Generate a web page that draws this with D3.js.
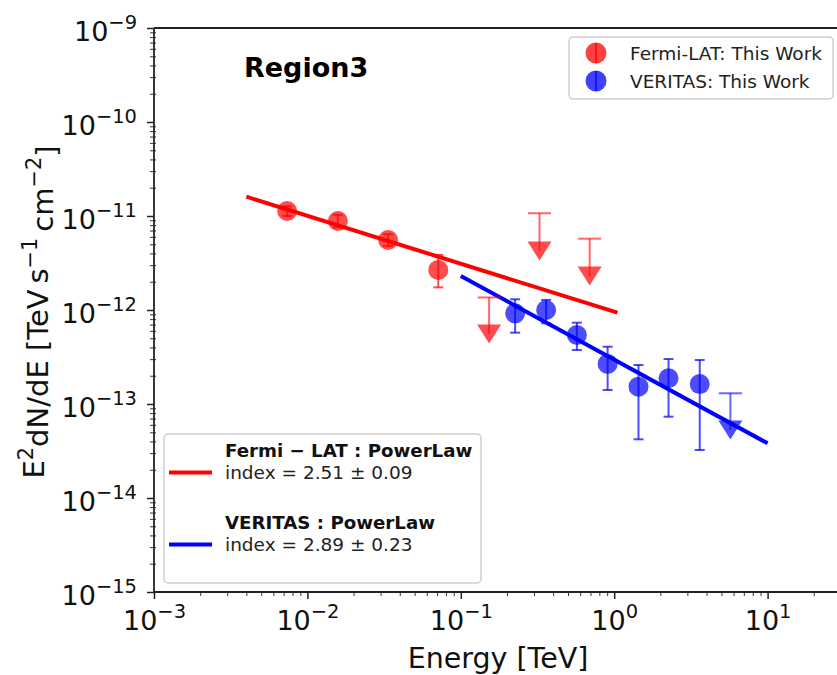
<!DOCTYPE html>
<html>
<head>
<meta charset="utf-8">
<script src="https://cdn.jsdelivr.net/npm/d3@7"></script>
<style>
  html, body { margin: 0; padding: 0; background: #fff; }
  svg { display: block; font-family: "DejaVu Sans", sans-serif; }
</style>
</head>
<body>
<svg id="chart" width="837" height="675"></svg>
<script>
// Fermi-LAT flux points (E in TeV, E^2 dN/dE in TeV s^-1 cm^-2)
const fermiEnergy = [0.00738, 0.0158, 0.0336, 0.0713];
const fermiFlux   = [1.13e-11, 8.85e-12, 5.56e-12, 2.67e-12];
const fermiFluxLo = [1.0e-11, 7.6e-12, 4.8e-12, 1.74e-12];
const fermiFluxHi = [1.27e-11, 1.03e-11, 6.4e-12, 3.85e-12];

// Fermi-LAT upper limits: limit value and arrow-head position
const fermiUlEnergy = [0.153, 0.326, 0.692];
const fermiUlValue  = [1.36e-12, 1.07e-11, 5.74e-12];
const fermiUlArrow  = [5.55e-13, 4.24e-12, 2.30e-12];

// VERITAS flux points
const veritasEnergy = [0.226, 0.360, 0.571, 0.906, 1.44, 2.26, 3.61];
const veritasFlux   = [9.22e-13, 1.0e-12, 5.42e-13, 2.67e-13, 1.53e-13, 1.88e-13, 1.63e-13];
const veritasFluxLo = [5.74e-13, 7.22e-13, 3.75e-13, 1.41e-13, 4.21e-14, 7.33e-14, 3.24e-14];
const veritasFluxHi = [1.30e-12, 1.28e-12, 7.33e-13, 4.07e-13, 2.60e-13, 3.01e-13, 2.94e-13];

// VERITAS upper limit
const veritasUlEnergy = [5.72];
const veritasUlValue  = [1.30e-13];
const veritasUlArrow  = [5.29e-14];

// Power-law fits: spectral index, reference energy, E^2 dN/dE at reference, energy range
const modelNames    = ["Fermi − LAT : PowerLaw", "VERITAS : PowerLaw"];
const modelIndex    = [2.51, 2.89];
const modelIndexErr = [0.09, 0.23];
const modelRefE     = [1.0, 0.1];
const modelRefFlux  = [9.6e-13, 2.3e-12];
const modelEmin     = [0.004, 0.1];
const modelEmax     = [1.05, 10.0];
const modelColors   = ["#ff0000", "#0000ff"];

const pointLegend = ["Fermi-LAT: This Work", "VERITAS: This Work"];

const xTicks = [1e-3, 1e-2, 1e-1, 1e0, 1e1];
const yTicks = [1e-15, 1e-14, 1e-13, 1e-12, 1e-11, 1e-10, 1e-9];

(function () {
  const svg = d3.select("#chart");
  const pLeft = 154, pRight = 154 + 4.6 * 153.4, pTop = 28, pBottom = 592;

  const x = d3.scaleLog().domain([1e-3, Math.pow(10, 1.6)]).range([pLeft, pRight]);
  const y = d3.scaleLog().domain([1e-15, 1e-9]).range([pBottom, pTop]);

  const minorX = [];
  for (let e = -3; e <= 1; e++) for (let m = 2; m <= 9; m++) {
    const v = m * Math.pow(10, e);
    if (v < x.domain()[1]) minorX.push(v);
  }
  const minorY = [];
  for (let e = -15; e < -9; e++) for (let m = 2; m <= 9; m++) minorY.push(m * Math.pow(10, e));

  const supLabel = function (sel) {
    sel.each(function (d) {
      const t = d3.select(this);
      const ex = Math.round(Math.log10(d));
      t.text(null);
      t.append("tspan").text("10");
      t.append("tspan").attr("dy", "-0.62em").attr("font-size", "0.72em")
        .text((ex < 0 ? "−" : "") + Math.abs(ex));
    });
  };

  // minor ticks
  svg.append("g").attr("transform", `translate(0,${pBottom})`)
    .call(d3.axisBottom(x).tickValues(minorX).tickSize(4).tickFormat(""))
    .call(g => g.select(".domain").remove())
    .selectAll("line").attr("stroke", "#333").attr("stroke-width", 1);
  svg.append("g").attr("transform", `translate(${pLeft},0)`)
    .call(d3.axisLeft(y).tickValues(minorY).tickSize(4).tickFormat(""))
    .call(g => g.select(".domain").remove())
    .selectAll("line").attr("stroke", "#333").attr("stroke-width", 1).attr("x2", -4).attr("x1", 2);

  // major ticks and labels
  const xAxis = svg.append("g").attr("transform", `translate(0,${pBottom})`)
    .call(d3.axisBottom(x).tickValues(xTicks).tickSize(7).tickPadding(12));
  xAxis.select(".domain").remove();
  xAxis.selectAll("line").attr("stroke", "#222").attr("stroke-width", 1.5);
  xAxis.selectAll("text").attr("font-size", 27).attr("fill", "#111")
    .attr("font-family", "DejaVu Sans").attr("dy", "0.71em").call(supLabel);

  const yAxis = svg.append("g").attr("transform", `translate(${pLeft},0)`)
    .call(d3.axisLeft(y).tickValues(yTicks).tickSize(7).tickPadding(10));
  yAxis.select(".domain").remove();
  yAxis.selectAll("line").attr("stroke", "#222").attr("stroke-width", 1.5);
  yAxis.selectAll("text").attr("font-size", 27).attr("fill", "#111")
    .attr("font-family", "DejaVu Sans").attr("dy", "0.45em").call(supLabel);

  // spines
  svg.append("line").attr("x1", pLeft).attr("x2", pRight).attr("y1", pBottom).attr("y2", pBottom)
    .attr("stroke", "#222").attr("stroke-width", 1.8);
  svg.append("line").attr("x1", pLeft).attr("x2", pRight).attr("y1", pTop).attr("y2", pTop)
    .attr("stroke", "#222").attr("stroke-width", 1.8);
  svg.append("line").attr("x1", pLeft).attr("x2", pLeft).attr("y1", pTop).attr("y2", pBottom)
    .attr("stroke", "#222").attr("stroke-width", 1.8);

  // axis titles
  svg.append("text").attr("x", 498).attr("y", 668).attr("text-anchor", "middle")
    .attr("font-size", 28.5).attr("fill", "#111").text("Energy [TeV]");

  const yl = svg.append("text").attr("transform", "translate(44,312) rotate(-90)")
    .attr("text-anchor", "middle").attr("font-size", 29).attr("fill", "#111");
  yl.append("tspan").text("E");
  yl.append("tspan").attr("dy", "-0.55em").attr("font-size", "0.72em").text("2");
  yl.append("tspan").attr("dy", "0.55em").text("dN/dE [TeV");
  yl.append("tspan").text("\u2009s");
  yl.append("tspan").attr("dy", "-0.55em").attr("font-size", "0.72em").text("−1");
  yl.append("tspan").attr("dy", "0.55em").text("\u2009cm");
  yl.append("tspan").attr("dy", "-0.55em").attr("font-size", "0.72em").text("−2");
  yl.append("tspan").attr("dy", "0.55em").text("]");

  // power-law model lines
  const lineGen = d3.line().x(d => x(d[0])).y(d => y(d[1]));
  modelIndex.forEach((idx, i) => {
    const f = e => modelRefFlux[i] * Math.pow(e / modelRefE[i], 2 - idx);
    const pts = [modelEmin[i], modelEmax[i]].map(e => [e, f(e)]);
    svg.append("path").attr("d", lineGen(pts)).attr("fill", "none")
      .attr("stroke", modelColors[i]).attr("stroke-width", 4);
  });

  // flux points with error bars
  function drawPoints(energy, flux, lo, hi, color) {
    const g = svg.append("g");
    energy.forEach((e, i) => {
      const cx = x(e);
      g.append("line").attr("x1", cx).attr("x2", cx).attr("y1", y(hi[i])).attr("y2", y(lo[i]))
        .attr("stroke", color).attr("stroke-opacity", 0.7).attr("stroke-width", 2);
      [hi[i], lo[i]].forEach(v => g.append("line").attr("x1", cx - 5).attr("x2", cx + 5)
        .attr("y1", y(v)).attr("y2", y(v)).attr("stroke", color).attr("stroke-opacity", 0.7)
        .attr("stroke-width", 2));
      g.append("circle").attr("cx", cx).attr("cy", y(flux[i])).attr("r", 10)
        .attr("fill", color).attr("fill-opacity", 0.7);
    });
  }

  function drawLimits(energy, value, arrow, color) {
    const g = svg.append("g");
    energy.forEach((e, i) => {
      const cx = x(e), cy = y(arrow[i]), yt = y(value[i]);
      g.append("line").attr("x1", cx).attr("x2", cx).attr("y1", yt).attr("y2", cy)
        .attr("stroke", color).attr("stroke-opacity", 0.6).attr("stroke-width", 2);
      g.append("line").attr("x1", cx - 11.5).attr("x2", cx + 11.5).attr("y1", yt).attr("y2", yt)
        .attr("stroke", color).attr("stroke-opacity", 0.6).attr("stroke-width", 2);
      g.append("path")
        .attr("d", `M${cx - 12},${cy - 9.5}L${cx + 12},${cy - 9.5}L${cx},${cy + 9.5}Z`)
        .attr("fill", color).attr("fill-opacity", 0.7);
    });
  }

  drawPoints(fermiEnergy, fermiFlux, fermiFluxLo, fermiFluxHi, "#ff0000");
  drawLimits(fermiUlEnergy, fermiUlValue, fermiUlArrow, "#ff0000");
  drawPoints(veritasEnergy, veritasFlux, veritasFluxLo, veritasFluxHi, "#0000ff");
  drawLimits(veritasUlEnergy, veritasUlValue, veritasUlArrow, "#0000ff");

  // region title
  svg.append("text").attr("x", 244).attr("y", 77).attr("font-size", 27)
    .attr("font-weight", "bold").attr("fill", "#000").text("Region3");

  // flux point legend
  svg.append("rect").attr("x", 569).attr("y", 37).attr("width", 264).attr("height", 62)
    .attr("rx", 4).attr("fill", "#fff").attr("fill-opacity", 0.8)
    .attr("stroke", "#cfcfcf").attr("stroke-width", 1.5);
  ["#ff0000", "#0000ff"].forEach((c, i) => {
    const cy = 53 + i * 28;
    svg.append("line").attr("x1", 596).attr("x2", 596).attr("y1", cy - 10).attr("y2", cy + 10)
      .attr("stroke", c).attr("stroke-opacity", 0.7).attr("stroke-width", 2);
    svg.append("circle").attr("cx", 596).attr("cy", cy).attr("r", 10.5)
      .attr("fill", c).attr("fill-opacity", 0.75);
    svg.append("text").attr("x", 630).attr("y", cy).attr("dy", "0.36em")
      .attr("font-size", 18.5).attr("fill", "#222").text(pointLegend[i]);
  });

  // model legend
  svg.append("rect").attr("x", 164).attr("y", 434).attr("width", 317).attr("height", 149)
    .attr("rx", 4).attr("fill", "#fff").attr("fill-opacity", 0.8)
    .attr("stroke", "#cfcfcf").attr("stroke-width", 1.5);
  modelNames.forEach((name, i) => {
    const base = 450 + i * 72;
    svg.append("text").attr("x", 225).attr("y", base).attr("dy", "0.36em")
      .attr("font-size", 18.2).attr("font-weight", "bold").attr("fill", "#111").text(name);
    svg.append("text").attr("x", 225).attr("y", base + 22.5).attr("dy", "0.36em")
      .attr("font-size", 18.5).attr("fill", "#222")
      .text(`index = ${modelIndex[i].toFixed(2)} ± ${modelIndexErr[i].toFixed(2)}`);
    svg.append("line").attr("x1", 169).attr("x2", 212).attr("y1", base + 22.5).attr("y2", base + 22.5)
      .attr("stroke", modelColors[i]).attr("stroke-width", 4);
  });
})();
</script>
</body>
</html>
